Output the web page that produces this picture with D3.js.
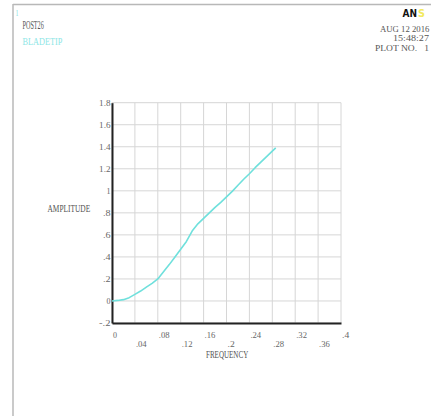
<!DOCTYPE html>
<html>
<head>
<meta charset="utf-8">
<script src="https://cdn.jsdelivr.net/npm/d3@7"></script>
<style>
  html, body { margin: 0; padding: 0; background: #fff; }
  svg { display: block; }
</style>
</head>
<body>
<svg id="chart" width="431" height="416"></svg>
<script>
// Harmonic response of the blade tip: amplitude vs. frequency
const frequency = [0, 0.01, 0.02, 0.03, 0.04, 0.05, 0.06, 0.07, 0.08, 0.09, 0.10, 0.11, 0.12, 0.13, 0.14,
                   0.15, 0.16, 0.17, 0.18, 0.19, 0.20, 0.21, 0.22, 0.23, 0.24, 0.25, 0.26, 0.27, 0.28, 0.286];
const amplitude = [0, 0.005, 0.012, 0.03, 0.06, 0.09, 0.125, 0.16, 0.2, 0.265, 0.33, 0.40, 0.47, 0.54, 0.635,
                   0.70, 0.75, 0.80, 0.85, 0.895, 0.945, 0.995, 1.05, 1.105, 1.155, 1.21, 1.26, 1.31, 1.36, 1.39];
const xTicks = [0, 0.04, 0.08, 0.12, 0.16, 0.2, 0.24, 0.28, 0.32, 0.36, 0.4];
const yTicks = [-0.2, 0, 0.2, 0.4, 0.6, 0.8, 1.0, 1.2, 1.4, 1.6, 1.8];
const headerLeft = ["1", "POST26", "BLADETIP"];
const headerRight = ["AUG 12 2016", "15:48:27", "PLOT NO.   1"];

const svg = d3.select("#chart");
const FONT = "'Liberation Serif', 'DejaVu Serif', serif";

const x = d3.scaleLinear().domain([0, 0.4]).range([112, 341]);
const y = d3.scaleLinear().domain([-0.2, 1.8]).range([323, 102.7]);

// ANSYS-style label formatting: ".04", "1.2", "-.2"
const fmt = v => {
  if (Math.abs(v) < 1e-9) return "0";
  const sign = v < 0 ? "-" : "";
  const s = String(+Math.abs(v).toFixed(3));
  return sign + s.replace(/^0\./, ".");
};

// Plot-font text: fixed advance per character, squeezed horizontally to fit
function label(g, px, py, str, opts = {}) {
  const t = g.append("text")
    .attr("x", 0).attr("y", 0)
    .attr("font-family", FONT)
    .attr("font-size", opts.size || 10)
    .attr("fill", opts.fill || "#555")
    .attr("text-anchor", opts.anchor || "start")
    .attr("xml:space", "preserve")
    .style("white-space", "pre")
    .text(str);
  let sx = 1;
  if (opts.cw) {
    const natural = t.node().getComputedTextLength();
    if (natural > 0) sx = (str.length * opts.cw) / natural;
  }
  t.attr("transform", `translate(${px},${py}) scale(${sx},1)`);
  return t;
}

// window frame
svg.append("line").attr("x1", 13).attr("x2", 431).attr("y1", 4.5).attr("y2", 4.5)
  .attr("stroke", "#b8b8b8").attr("stroke-width", 1.5);
svg.append("line").attr("x1", 13).attr("x2", 13).attr("y1", 4).attr("y2", 416)
  .attr("stroke", "#b8b8b8").attr("stroke-width", 1.5);

// header
const hdr = svg.append("g");
label(hdr, 15.5, 16, headerLeft[0], { size: 8.5, fill: "#7fe0e0", cw: 3 });
label(hdr, 22.5, 28.5, headerLeft[1], { size: 11.5, fill: "#555", cw: 3.55 });
label(hdr, 22.5, 44.5, headerLeft[2], { size: 10, fill: "#8ee6e6", cw: 5 });

label(hdr, 380, 32, headerRight[0], { size: 9, fill: "#555", cw: 4.5 });
label(hdr, 393, 41, headerRight[1], { size: 9, fill: "#555", cw: 4.5 });
label(hdr, 375, 51, headerRight[2], { size: 9, fill: "#555", cw: 4.5 });

// logo
hdr.append("text").attr("x", 402.5).attr("y", 16.5)
  .attr("font-family", "'DejaVu Sans', sans-serif").attr("font-weight", "bold")
  .attr("font-size", 10).attr("fill", "#111")
  .attr("textLength", 14.5).attr("lengthAdjust", "spacingAndGlyphs").text("AN");
hdr.append("text").attr("x", 418).attr("y", 16.5)
  .attr("font-family", "'DejaVu Sans', sans-serif").attr("font-weight", "bold")
  .attr("font-size", 10).attr("fill", "#f2ea60")
  .attr("textLength", 7).attr("lengthAdjust", "spacingAndGlyphs").text("S");

// grid
const grid = svg.append("g").attr("stroke", "#d6d6d6").attr("stroke-width", 1);
grid.selectAll("line.v").data(xTicks).join("line").attr("class", "v")
  .attr("x1", d => x(d)).attr("x2", d => x(d))
  .attr("y1", y(1.8)).attr("y2", y(-0.2));
grid.selectAll("line.h").data(yTicks).join("line").attr("class", "h")
  .attr("x1", x(0)).attr("x2", x(0.4))
  .attr("y1", d => y(d)).attr("y2", d => y(d));

// axes
const xAxis = svg.append("g").attr("transform", `translate(0,${y(-0.2)})`)
  .call(d3.axisBottom(x).tickValues(xTicks).tickSize(0).tickFormat(""));
const yAxis = svg.append("g").attr("transform", `translate(${x(0)},0)`)
  .call(d3.axisLeft(y).tickValues(yTicks).tickSize(0).tickFormat(""));
[xAxis, yAxis].forEach(a => a.select(".domain").attr("stroke", "#222").attr("stroke-width", 2));

// tick labels
const tl = svg.append("g");
xTicks.forEach((v, i) => {
  const s = fmt(v);
  label(tl, x(v) + 1, i % 2 === 0 ? 338 : 347, s, { size: 9, fill: "#666", cw: s === "0" ? 4 : 3.6 });
});
yTicks.forEach(v => {
  const s = fmt(v);
  label(tl, x(0) - 1.5, y(v) + 3, s, { size: 9, fill: "#666", anchor: "end", cw: s.length === 1 ? 4 : 3.8 });
});

// axis titles
label(svg, 47.5, 212, "AMPLITUDE", { size: 11, fill: "#555", cw: 4.75 });
label(svg, 206, 358, "FREQUENCY", { size: 11, fill: "#555", cw: 4.7 });

// response curve
const pts = frequency.map((f, i) => [f, amplitude[i]]);
svg.append("path").datum(pts)
  .attr("fill", "none").attr("stroke", "#6fe0dc").attr("stroke-width", 1.6)
  .attr("stroke-linejoin", "round")
  .attr("d", d3.line().x(d => x(d[0])).y(d => y(d[1])));
</script>
</body>
</html>
